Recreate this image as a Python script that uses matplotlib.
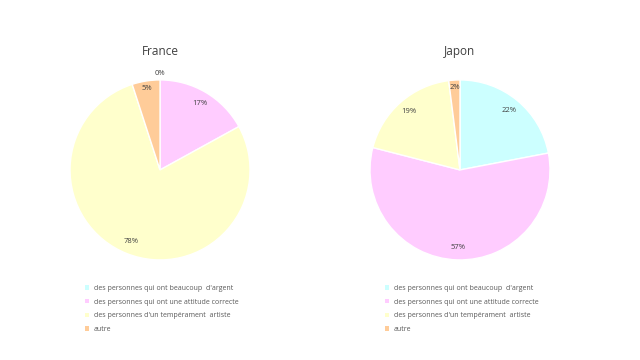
import numpy as np
import matplotlib
matplotlib.use('Agg')
import matplotlib.pyplot as plt
from matplotlib.patches import Patch

plt.rcParams['font.family'] = ['Open Sans', 'DejaVu Sans']

categories = ["des personnes qui ont beaucoup  d'argent",
              "des personnes qui ont une attitude correcte",
              "des personnes d'un tempérament  artiste",
              "autre"]
france = [0, 17, 78, 5]
japon = [22, 57, 19, 2]
titles = ["France", "Japon"]
colors = ['#CCFFFF', '#FFCCFF', '#FFFFCC', '#FFCC99']

fig = plt.figure(figsize=(6.4, 3.6), dpi=100)
pos = [[0.1094, 0.278, 0.2813, 0.5], [0.5781, 0.278, 0.2813, 0.5]]
for k, vals in enumerate([france, japon]):
    ax = fig.add_axes(pos[k])
    wedges, texts, autotexts = ax.pie(vals, colors=colors, startangle=90, counterclock=False,
                                      autopct='%1.0f%%', pctdistance=0.86,
                                      wedgeprops=dict(edgecolor='white', linewidth=1),
                                      textprops=dict(fontsize=5.5, color='#404040'))
    # push small labels outward
    for v, t in zip(vals, autotexts):
        x, y = t.get_position()
        r = np.hypot(x, y)
        if v == 0:
            t.set_position((x / r * 1.07, y / r * 1.07))
        elif v <= 5:
            t.set_position((x / r * 0.92, y / r * 0.92))
    ax.set_xlim(-1, 1)
    ax.set_ylim(-1, 1)
    ax.set_title(titles[k], fontsize=8.5, color='#404040', pad=18)
    handles = [Patch(facecolor=c, edgecolor='none') for c in colors]
    ax.legend(handles, categories, loc='upper left', bbox_to_anchor=(0.05, -0.105),
              frameon=False, fontsize=5, labelcolor='#595959', handlelength=0.6,
              handleheight=0.6, handletextpad=0.6, labelspacing=0.95)

fig.savefig('out.png', dpi=100)
